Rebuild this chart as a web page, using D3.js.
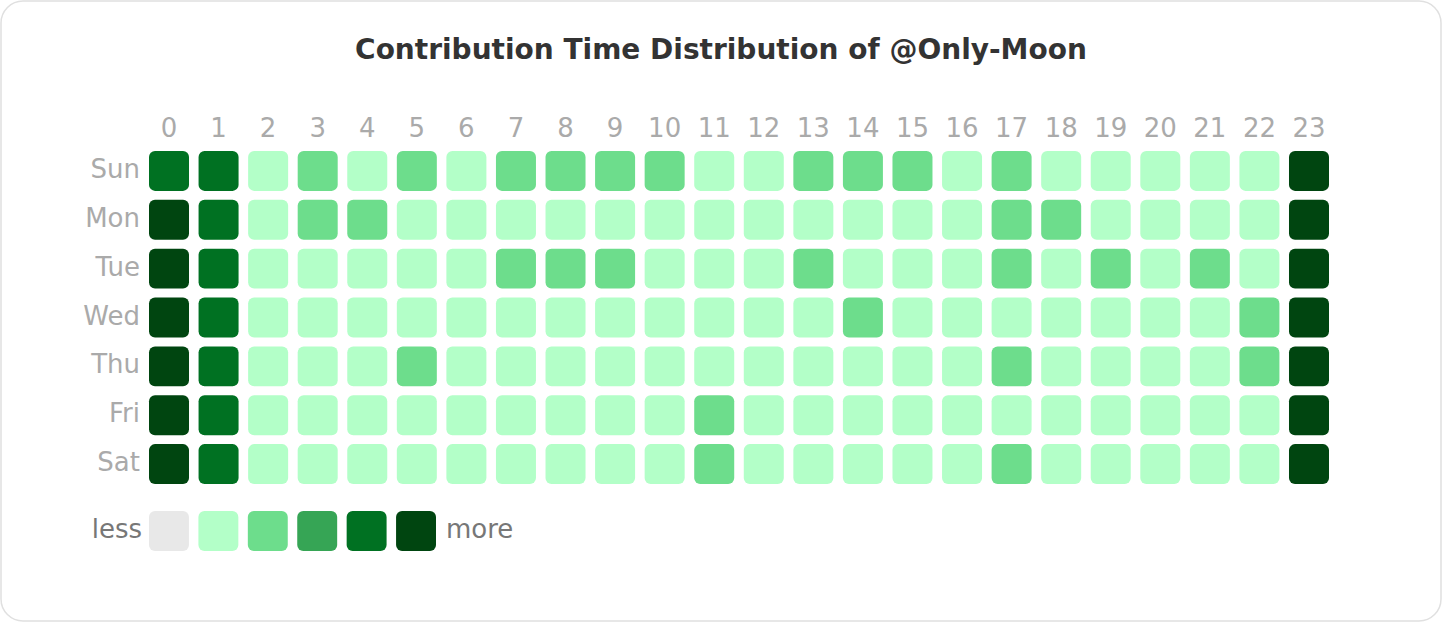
<!DOCTYPE html>
<html>
<head>
<meta charset="utf-8">
<script src="https://cdn.jsdelivr.net/npm/d3@7"></script>
<style>
  html, body { margin: 0; padding: 0; background: #fff; }
  svg { display: block; font-family: "DejaVu Sans", sans-serif; }
</style>
</head>
<body>
<svg id="chart" width="1442" height="622"></svg>
<script>
const days = ["Sun", "Mon", "Tue", "Wed", "Thu", "Fri", "Sat"];
const hours = d3.range(24).map(String);

// contribution level per day (rows) and hour (columns)
const levels = [
  [4,4,1,2,1,2,1,2,2,2,2,1,1,2,2,2,1,2,1,1,1,1,1,5],
  [5,4,1,2,2,1,1,1,1,1,1,1,1,1,1,1,1,2,2,1,1,1,1,5],
  [5,4,1,1,1,1,1,2,2,2,1,1,1,2,1,1,1,2,1,2,1,2,1,5],
  [5,4,1,1,1,1,1,1,1,1,1,1,1,1,2,1,1,1,1,1,1,1,2,5],
  [5,4,1,1,1,2,1,1,1,1,1,1,1,1,1,1,1,2,1,1,1,1,2,5],
  [5,4,1,1,1,1,1,1,1,1,1,2,1,1,1,1,1,1,1,1,1,1,1,5],
  [5,4,1,1,1,1,1,1,1,1,1,2,1,1,1,1,1,2,1,1,1,1,1,5]
];

const legendLevels = [0, 1, 2, 3, 4, 5];
const palette = ["#e8e8e8", "#b3ffc8", "#6ddd8c", "#36a555", "#007122", "#004510"];

const svg = d3.select("#chart");

svg.append("rect")
   .attr("x", 1).attr("y", 1)
   .attr("width", 1440).attr("height", 620)
   .attr("rx", 22)
   .attr("fill", "#fff")
   .attr("stroke", "#e0e0e0")
   .attr("stroke-width", 1.5);

svg.append("text")
   .attr("x", 721).attr("y", 59)
   .attr("text-anchor", "middle")
   .attr("font-size", 28)
   .attr("font-weight", "bold")
   .attr("fill", "#333")
   .text("Contribution Time Distribution of @Only-Moon");

// band scales: cells are 40px, range ends on the last cell's far edge
const x = d3.scaleBand().domain(hours).range([149, 1329]).paddingInner(9.56 / 49.56).paddingOuter(0);
const y = d3.scaleBand().domain(days).range([151, 484]).paddingInner(9 / 49).paddingOuter(0);
const color = d3.scaleOrdinal().domain(legendLevels).range(palette);

const cells = levels.flatMap((row, i) => row.map((v, j) => ({day: days[i], hour: hours[j], v})));

svg.append("g")
   .selectAll("rect")
   .data(cells)
   .join("rect")
   .attr("x", d => x(d.hour))
   .attr("y", d => y(d.day))
   .attr("width", x.bandwidth())
   .attr("height", y.bandwidth())
   .attr("rx", 6)
   .attr("fill", d => color(d.v));

svg.append("g")
   .selectAll("text")
   .data(hours)
   .join("text")
   .attr("x", d => x(d) + x.bandwidth() / 2)
   .attr("y", 137)
   .attr("text-anchor", "middle")
   .attr("font-size", 26)
   .attr("fill", "#aaa")
   .text(d => d);

svg.append("g")
   .selectAll("text")
   .data(days)
   .join("text")
   .attr("x", 140)
   .attr("y", d => y(d) + 27)
   .attr("text-anchor", "end")
   .attr("font-size", 26)
   .attr("fill", "#aaa")
   .text(d => d);

// legend
const lx = d3.scaleBand().domain(legendLevels).range([149, 436]).paddingInner(9.5 / 49.5).paddingOuter(0);
const legend = svg.append("g");

legend.selectAll("rect")
      .data(legendLevels)
      .join("rect")
      .attr("x", d => lx(d))
      .attr("y", 511)
      .attr("width", lx.bandwidth())
      .attr("height", 40)
      .attr("rx", 6)
      .attr("fill", d => color(d));

legend.append("text")
      .attr("x", 142).attr("y", 538)
      .attr("text-anchor", "end")
      .attr("font-size", 26)
      .attr("fill", "#777")
      .text("less");

legend.append("text")
      .attr("x", 446).attr("y", 538)
      .attr("font-size", 26)
      .attr("fill", "#777")
      .text("more");
</script>
</body>
</html>
